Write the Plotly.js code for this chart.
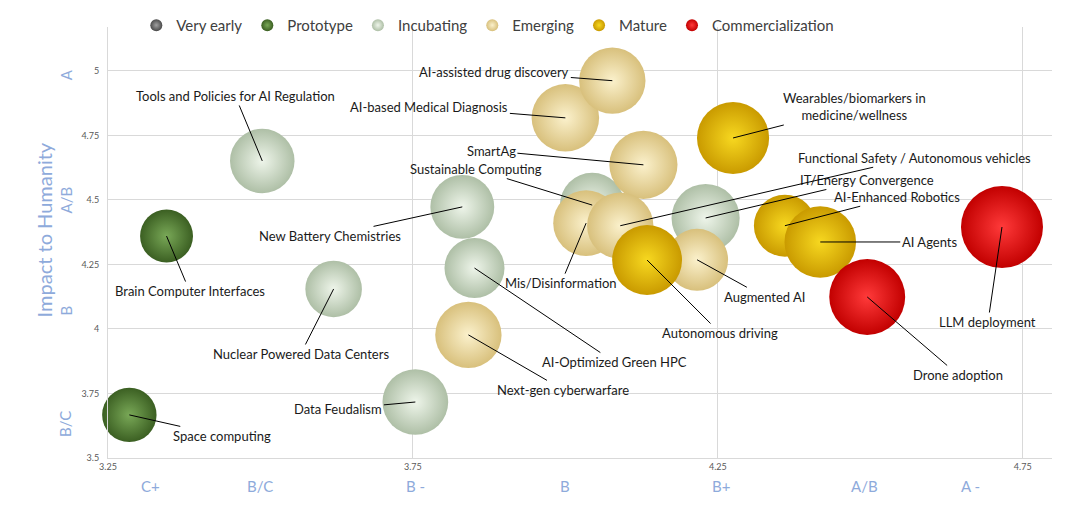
<!DOCTYPE html>
<html>
<head>
<meta charset="utf-8">
<script src="https://cdn.plot.ly/plotly-3.0.1.min.js"></script>
<style>
  html, body { margin: 0; padding: 0; background: #ffffff; }
  #chart { width: 1069px; height: 507px; }
</style>
</head>
<body>
<div id="chart"></div>
<script>
// ---------------- DATA ----------------
const stages = ["Very early", "Prototype", "Incubating", "Emerging", "Mature", "Commercialization"];

const techNames = [
  "Space computing", "Brain Computer Interfaces",
  "Tools and Policies for AI Regulation", "Nuclear Powered Data Centers", "Data Feudalism",
  "New Battery Chemistries", "AI-Optimized Green HPC", "Sustainable Computing", "IT/Energy Convergence",
  "Next-gen cyberwarfare", "AI-based Medical Diagnosis", "AI-assisted drug discovery", "SmartAg",
  "Mis/Disinformation", "Functional Safety / Autonomous vehicles", "Augmented AI",
  "Autonomous driving", "Wearables/biomarkers in<br>medicine/wellness", "AI-Enhanced Robotics", "AI Agents",
  "Drone adoption", "LLM deployment"
];
const techStage = [
  "Prototype", "Prototype",
  "Incubating", "Incubating", "Incubating",
  "Incubating", "Incubating", "Incubating", "Incubating",
  "Emerging", "Emerging", "Emerging", "Emerging",
  "Emerging", "Emerging", "Emerging",
  "Mature", "Mature", "Mature", "Mature",
  "Commercialization", "Commercialization"
];
// x: readiness grade (3.25 .. 4.75), y: impact to humanity (3.5 .. 5)
const readiness = [
  3.285, 3.346,
  3.503, 3.620, 3.754,
  3.831, 3.851, 4.044, 4.230,
  3.841, 4.000, 4.077, 4.128,
  4.034, 4.090, 4.216,
  4.134, 4.275, 4.360, 4.418,
  4.495, 4.716
];
const impact = [
  3.667, 4.360,
  4.651, 4.155, 3.717,
  4.473, 4.236, 4.480, 4.430,
  3.977, 4.818, 4.962, 4.636,
  4.410, 4.400, 4.268,
  4.267, 4.740, 4.400, 4.337,
  4.124, 4.395
];
const bubbleScore = [
  1.85, 1.75,
  2.60, 2.00, 2.70,
  2.55, 2.25, 2.60, 2.90,
  2.75, 2.85, 2.75, 2.90,
  2.70, 2.75, 2.40,
  3.05, 3.25, 2.40, 3.20,
  3.60, 4.20
];

const xTickVals = [3.25, 3.75, 4.25, 4.75];
const yTickVals = [3.5, 3.75, 4, 4.25, 4.5, 4.75, 5];
const xGradeLabels = ["C+", "B/C", "B -", "B", "B+", "A/B", "A -"];
const xGradePos = [3.32, 3.50, 3.755, 4.00, 4.255, 4.49, 4.665];
const yGradeLabels = ["A", "A/B", "B", "B/C"];
const yGradePos = [4.985, 4.50, 4.07, 3.63];

// ---------------- STYLE (not data) ----------------
const stageEdge = {
  "Very early": "#4a4a4a", "Prototype": "#3b5f22", "Incubating": "#aebfa6",
  "Emerging": "#d8c07c", "Mature": "#c99a00", "Commercialization": "#c20000"
};
const stageCenter = {
  "Very early": "#a0a0a0", "Prototype": "#79a857", "Incubating": "#eef5ea",
  "Emerging": "#fbf1cc", "Mature": "#f7d820", "Commercialization": "#ff3a3a"
};
// label offsets (pixels from bubble centre to label centre), same order as techNames
const labelDx = [93, 23, -27, -33, -77, -132, 140, -116, 161, 95, -136, -118, -152, -25, 294, 67, 73, 121, 112, 109, 91, -14];
const labelDy = [21, 55, -65, 65, 7, 29, 94, -36, -38, 55, -11, -9, -14, 60, -68, 37, 73, -31, -29, 0, 78, 95];

const FONT = "Lato, 'Open Sans', sans-serif";
const GRADE_BLUE = "#8eaadb";
const maxDiam = 82; // px diameter of the largest bubble
const maxScore = Math.max(...bubbleScore);

// ---------------- TRACES ----------------
const traces = stages.map(st => {
  const idx = techStage.map((s, i) => s === st ? i : -1).filter(i => i >= 0);
  return {
    type: "scatter",
    mode: "markers",
    name: st,
    x: idx.length ? idx.map(i => readiness[i]) : [null],
    y: idx.length ? idx.map(i => impact[i]) : [null],
    text: idx.map(i => techNames[i]),
    hoverinfo: "text",
    marker: {
      size: idx.length ? idx.map(i => bubbleScore[i]) : [1],
      sizemode: "area",
      sizeref: 2 * maxScore / (maxDiam * maxDiam),
      color: stageEdge[st],
      gradient: { type: "radial", color: stageCenter[st] },
      line: { width: 0 },
      opacity: 1
    },
    cliponaxis: false
  };
});

// ---------------- ANNOTATIONS ----------------
const annotations = [];
techNames.forEach((n, i) => {
  annotations.push({
    x: readiness[i], y: impact[i], xref: "x", yref: "y",
    text: n, showarrow: true, arrowhead: 0, arrowwidth: 1, arrowcolor: "#000000",
    ax: labelDx[i], ay: labelDy[i], standoff: 0, startstandoff: 0,
    font: { family: FONT, size: 13, color: "#1a1a1a" },
    align: "center"
  });
});
xGradeLabels.forEach((t, i) => {
  annotations.push({
    x: xGradePos[i], y: -0.065, xref: "x", yref: "paper",
    text: t, showarrow: false, yanchor: "middle",
    font: { family: FONT, size: 15, color: GRADE_BLUE }
  });
});
yGradeLabels.forEach((t, i) => {
  annotations.push({
    x: -0.045, y: yGradePos[i], xref: "paper", yref: "y",
    text: t, showarrow: false, textangle: -90, xanchor: "center",
    font: { family: FONT, size: 15, color: GRADE_BLUE }
  });
});
annotations.push({
  x: -0.068, y: 0.53, xref: "paper", yref: "paper",
  text: "Impact to Humanity", showarrow: false, textangle: -90,
  xanchor: "center", yanchor: "middle",
  font: { family: FONT, size: 20, color: GRADE_BLUE }
});

const layout = {
  width: 1069, height: 507,
  margin: { l: 108, r: 17, t: 27, b: 49, autoexpand: false },
  paper_bgcolor: "#ffffff", plot_bgcolor: "#ffffff",
  font: { family: FONT, color: "#595959" },
  showlegend: true,
  legend: {
    orientation: "h", x: 0.03, y: 1.042, xanchor: "left", yanchor: "top",
    bgcolor: "rgba(0,0,0,0)", itemsizing: "constant",
    font: { family: FONT, size: 15, color: "#404040" }
  },
  xaxis: {
    range: [3.25, 4.798], tickvals: xTickVals, ticktext: xTickVals.map(String),
    showgrid: true, gridcolor: "#d9d9d9", gridwidth: 1,
    zeroline: false, showline: true, linecolor: "#d9d9d9",
    tickfont: { family: FONT, size: 9, color: "#595959" }, ticks: "",
    fixedrange: true
  },
  yaxis: {
    range: [3.5, 5.17], tickvals: yTickVals, ticktext: yTickVals.map(String),
    showgrid: true, gridcolor: "#d9d9d9", gridwidth: 1,
    zeroline: false, showline: true, linecolor: "#d9d9d9",
    tickfont: { family: FONT, size: 9, color: "#595959" }, ticks: "",
    ticklabelstandoff: 6,
    fixedrange: true
  },
  annotations: annotations,
  hovermode: false
};

Plotly.newPlot("chart", traces, layout, { displayModeBar: false, staticPlot: true });
</script>
</body>
</html>
